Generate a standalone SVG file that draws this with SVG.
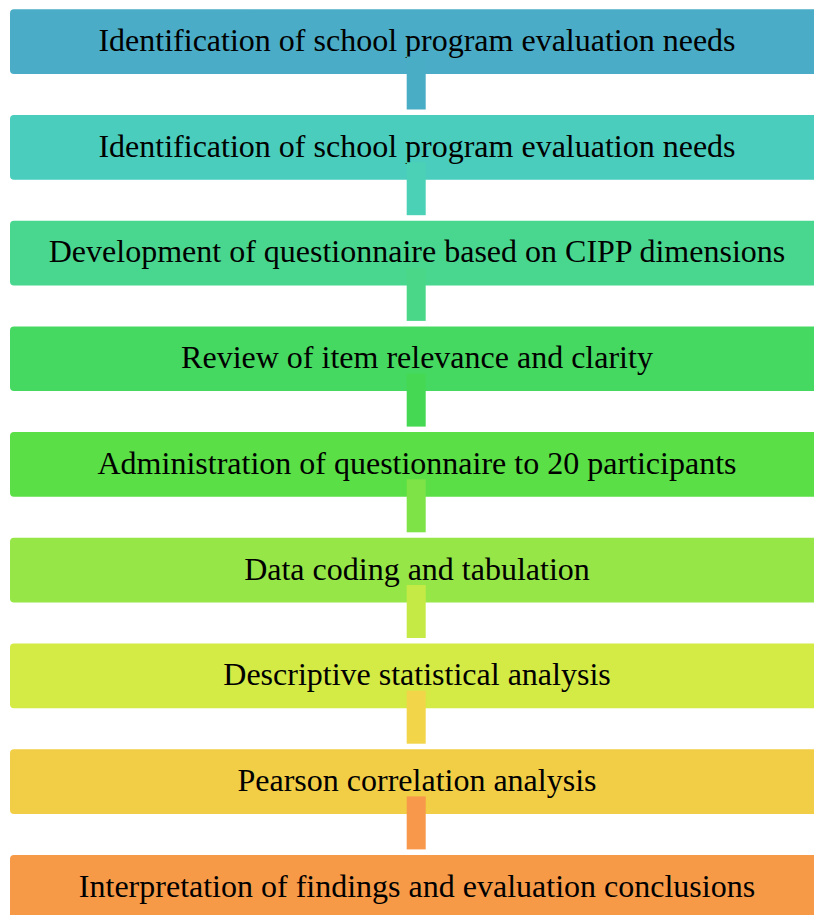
<svg xmlns="http://www.w3.org/2000/svg" width="814" height="915" viewBox="0 0 814 915">
  <style>
    .box { stroke: none; }
    .lbl { font-family: "Liberation Serif", "Times New Roman", serif; font-size: 32px; fill: #000; text-anchor: middle; }
  </style>
  <rect width="814" height="915" fill="#ffffff"/>

  <!-- process steps -->
  <g id="step1"><rect class="box" x="10" y="9.3" width="830" height="64.7" rx="4" fill="#4AACC6"/><text class="lbl" x="417" y="51">Identification of school program evaluation needs</text></g>
  <g id="step2"><rect class="box" x="10" y="115" width="830" height="64.7" rx="4" fill="#4ACDBD"/><text class="lbl" x="417" y="156.7">Identification of school program evaluation needs</text></g>
  <g id="step3"><rect class="box" x="10" y="220.7" width="830" height="64.7" rx="4" fill="#49D78F"/><text class="lbl" x="417" y="262.4">Development of questionnaire based on CIPP dimensions</text></g>
  <g id="step4"><rect class="box" x="10" y="326.4" width="830" height="64.7" rx="4" fill="#46D961"/><text class="lbl" x="417" y="368.1">Review of item relevance and clarity</text></g>
  <g id="step5"><rect class="box" x="10" y="432.1" width="830" height="64.7" rx="4" fill="#5ADF46"/><text class="lbl" x="417" y="473.8">Administration of questionnaire to 20 participants</text></g>
  <g id="step6"><rect class="box" x="10" y="537.8" width="830" height="64.7" rx="4" fill="#97E648"/><text class="lbl" x="417" y="579.5">Data coding and tabulation</text></g>
  <g id="step7"><rect class="box" x="10" y="643.5" width="830" height="64.7" rx="4" fill="#D4EA45"/><text class="lbl" x="417" y="685.2">Descriptive statistical analysis</text></g>
  <g id="step8"><rect class="box" x="10" y="749.2" width="830" height="64.7" rx="4" fill="#F2CE46"/><text class="lbl" x="417" y="790.9">Pearson correlation analysis</text></g>
  <g id="step9"><rect class="box" x="10" y="854.9" width="830" height="64.7" rx="4" fill="#F79A48"/><text class="lbl" x="417" y="896.6">Interpretation of findings and evaluation conclusions</text></g>

  <!-- connectors between steps -->
  <g id="connectors">
    <rect x="406.7" y="56.5" width="19" height="53" fill="#4AADC6"/>
    <rect x="406.7" y="162.2" width="19" height="53" fill="#4BD2B6"/>
    <rect x="406.7" y="267.9" width="19" height="53" fill="#4AD788"/>
    <rect x="406.7" y="373.6" width="19" height="53" fill="#45D953"/>
    <rect x="406.7" y="479.3" width="19" height="53" fill="#7DE347"/>
    <rect x="406.7" y="585" width="19" height="53" fill="#C6EA45"/>
    <rect x="406.7" y="690.7" width="19" height="53" fill="#F2D548"/>
    <rect x="406.7" y="796.4" width="19" height="53" fill="#F7984A"/>
  </g>
</svg>
